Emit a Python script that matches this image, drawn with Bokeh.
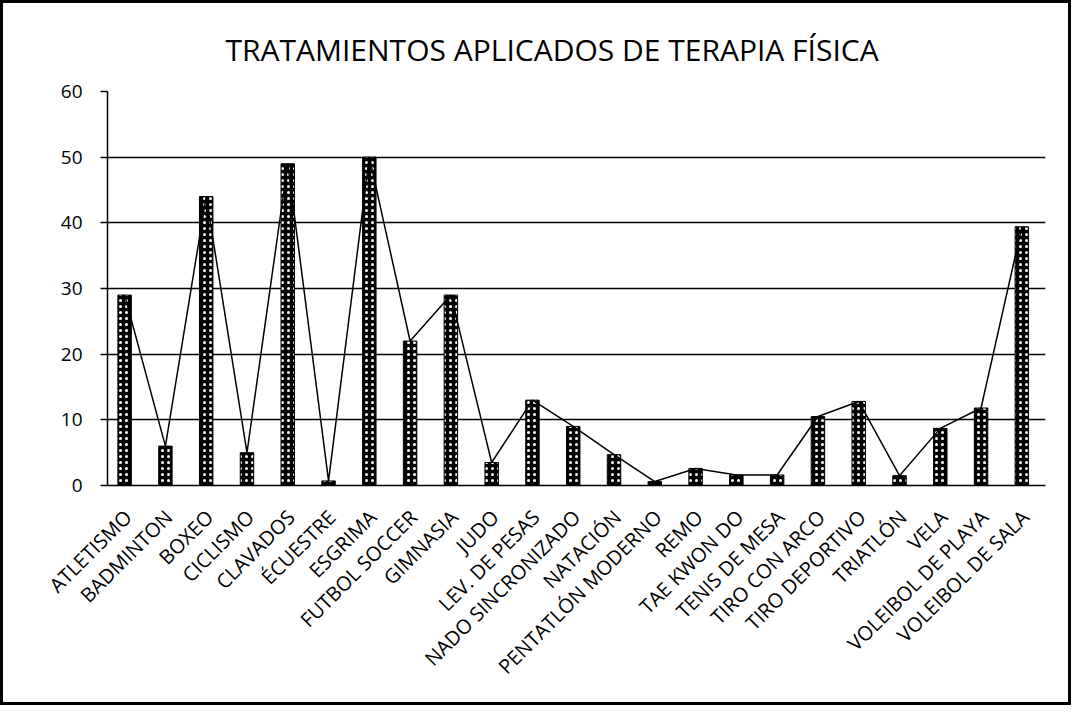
from math import pi
from bokeh.plotting import figure
from bokeh.models import FactorRange, Range1d, FixedTicker
from bokeh.transform import dodge
from bokeh.embed import file_html
from bokeh.resources import INLINE

categories = ["ATLETISMO", "BADMINTON", "BOXEO", "CICLISMO", "CLAVADOS", "ÉCUESTRE",
              "ESGRIMA", "FUTBOL SOCCER", "GIMNASIA", "JUDO", "LEV. DE PESAS",
              "NADO SINCRONIZADO", "NATACIÓN", "PENTATLÓN MODERNO", "REMO", "TAE KWON DO",
              "TENIS DE MESA", "TIRO CON ARCO", "TIRO DEPORTIVO", "TRIATLÓN", "VELA",
              "VOLEIBOL DE PLAYA", "VOLEIBOL DE SALA"]
values = [29, 6, 44, 5, 49, 0.7, 50, 22, 29, 3.5, 13, 9, 4.7, 0.6, 2.6, 1.6, 1.6,
          10.5, 12.8, 1.5, 8.7, 11.8, 39.4]
y_ticks = [0, 10, 20, 30, 40, 50, 60]
title_text = "TRATAMIENTOS APLICADOS DE TERAPIA FÍSICA"

FONT = "Open Sans"

p = figure(x_range=FactorRange(*categories, range_padding=0),
           y_range=Range1d(0, 60),
           width=1071, height=705,
           output_backend="svg", toolbar_location=None,
           min_border_left=104, min_border_right=29,
           min_border_top=88, min_border_bottom=223)

p.title.text = title_text
p.title.align = "left"
p.title.offset = 118
p.title.standoff = 44
p.title.text_font = FONT
p.title.text_font_size = "30px"
p.title.text_font_style = "normal"
p.title.text_color = "black"

src = dict(cat=categories, val=values)
p.vbar(x=dodge("cat", -0.08, range=p.x_range), top="val", width=0.33, source=src,
       fill_color="black", line_color="black", line_width=1,
       hatch_pattern="dot", hatch_color="white", hatch_scale=6, hatch_weight=1)
p.line(x=dodge("cat", -0.08, range=p.x_range), y="val", source=src,
       line_color="black", line_width=1.5)

p.yaxis.ticker = FixedTicker(ticks=y_ticks)
p.yaxis.major_label_text_font = FONT
p.yaxis.major_label_text_font_size = "19px"
p.yaxis.major_label_text_color = "black"
p.yaxis.axis_line_color = "black"
p.yaxis.axis_line_width = 1.5
p.yaxis.major_tick_line_color = "black"
p.yaxis.major_tick_line_width = 1.5
p.yaxis.major_tick_out = 7
p.yaxis.major_tick_in = 0
p.yaxis.minor_tick_line_color = None
p.yaxis.major_label_standoff = 18

p.xaxis.major_label_orientation = pi / 4
p.xaxis.major_label_text_font = FONT
p.xaxis.major_label_text_font_size = "20px"
p.xaxis.major_label_text_color = "black"
p.xaxis.axis_line_color = "black"
p.xaxis.axis_line_width = 1.5
p.xaxis.major_tick_line_color = None
p.xaxis.minor_tick_line_color = None
p.xaxis.major_label_standoff = 22

p.xgrid.grid_line_color = None
p.ygrid.ticker = FixedTicker(ticks=y_ticks)
p.ygrid.grid_line_color = "black"
p.ygrid.grid_line_width = 1.5
p.outline_line_color = None
p.background_fill_color = "white"
p.border_fill_color = "white"
p.styles = {"border": "3px solid black", "box-sizing": "border-box"}

open("out.html", "w").write(file_html(p, INLINE))
